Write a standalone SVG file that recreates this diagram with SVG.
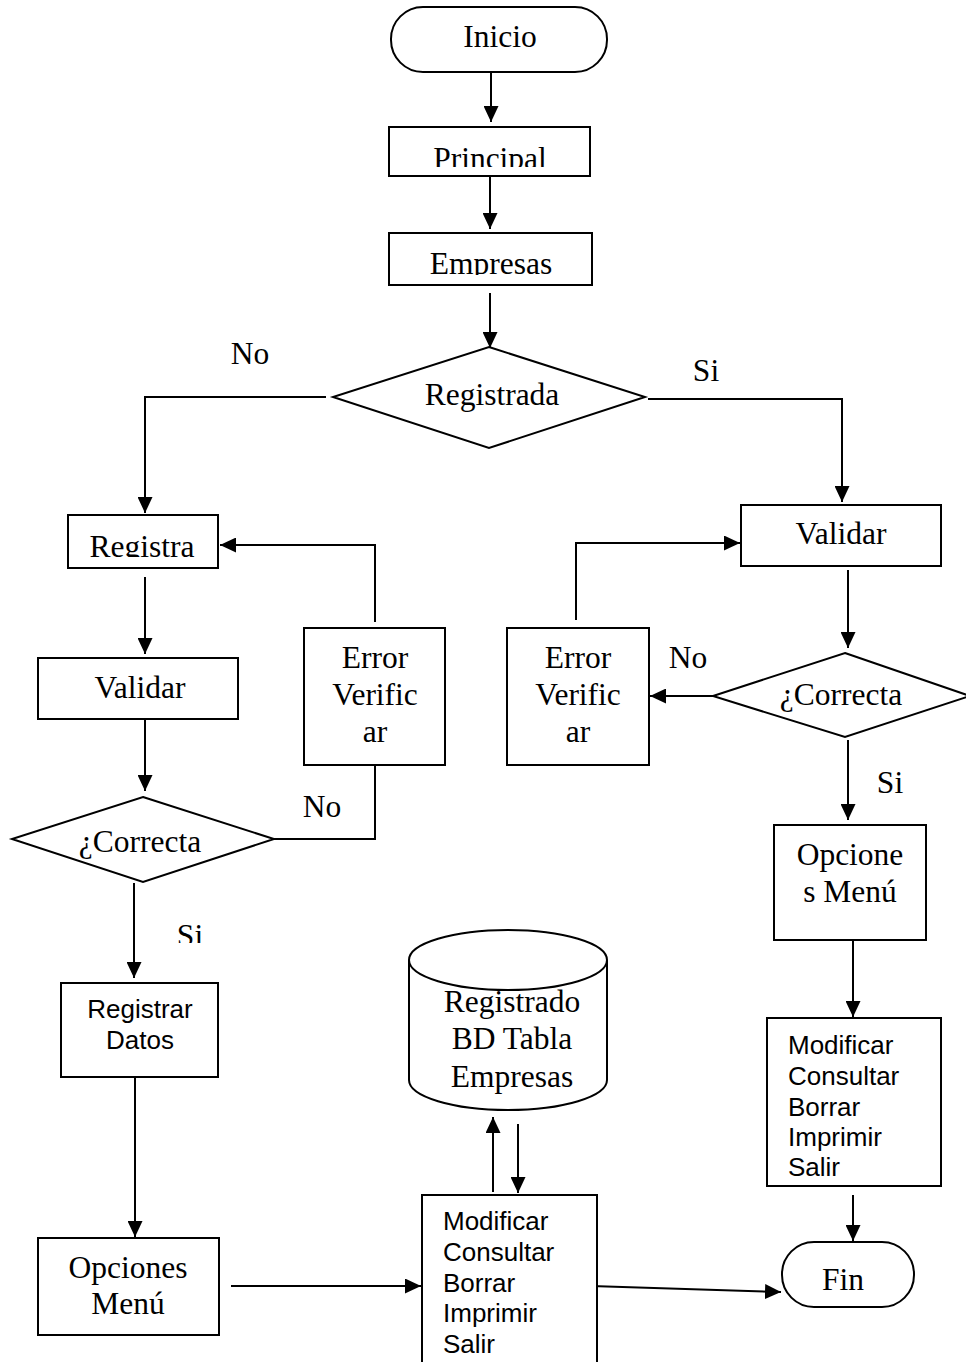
<svg xmlns="http://www.w3.org/2000/svg" width="966" height="1362" viewBox="0 0 966 1362">
<style>
.s{fill:#fff;stroke:#000;stroke-width:2}
.t{font-family:"Liberation Serif","Times New Roman",serif;font-size:31.5px;fill:#000;text-anchor:middle}
.a{font-family:"Liberation Sans",Arial,sans-serif;font-size:26px;fill:#000}
.c{fill:none;stroke:#000;stroke-width:2}
</style>
<defs>
<marker id="ar" markerUnits="userSpaceOnUse" markerWidth="17" markerHeight="15" refX="16" refY="7.5" orient="auto">
<path d="M0,0 L16,7.5 L0,15 Z" fill="#000"/>
</marker>
<clipPath id="cp1"><rect x="380" y="120" width="220" height="47"/></clipPath>
<clipPath id="cp2"><rect x="380" y="230" width="220" height="45"/></clipPath>
<clipPath id="cp3"><rect x="60" y="510" width="170" height="47"/></clipPath>
<clipPath id="cp4"><rect x="160" y="900" width="60" height="43"/></clipPath>
</defs>
<g id="connectors">
<line class="c" x1="491" y1="72" x2="491" y2="122" marker-end="url(#ar)"/>
<line class="c" x1="490" y1="176" x2="490" y2="229" marker-end="url(#ar)"/>
<line class="c" x1="490" y1="293" x2="490" y2="348" marker-end="url(#ar)"/>
<polyline class="c" points="326,397 145,397 145,513" marker-end="url(#ar)"/>
<polyline class="c" points="648,399 842,399 842,502" marker-end="url(#ar)"/>
<line class="c" x1="145" y1="577" x2="145" y2="654" marker-end="url(#ar)"/>
<polyline class="c" points="375,622 375,545 220,545" marker-end="url(#ar)"/>
<line class="c" x1="145" y1="720" x2="145" y2="791" marker-end="url(#ar)"/>
<polyline class="c" points="274,839 375,839 375,765"/>
<line class="c" x1="134" y1="883" x2="134" y2="978" marker-end="url(#ar)"/>
<line class="c" x1="135" y1="1068" x2="135" y2="1237" marker-end="url(#ar)"/>
<line class="c" x1="231" y1="1286" x2="421" y2="1286" marker-end="url(#ar)"/>
<line class="c" x1="591" y1="1286" x2="781" y2="1292" marker-end="url(#ar)"/>
<line class="c" x1="493" y1="1192" x2="493" y2="1117" marker-end="url(#ar)"/>
<line class="c" x1="518" y1="1124" x2="518" y2="1193" marker-end="url(#ar)"/>
<polyline class="c" points="576,620 576,543 740,543" marker-end="url(#ar)"/>
<line class="c" x1="848" y1="570" x2="848" y2="648" marker-end="url(#ar)"/>
<line class="c" x1="713" y1="696" x2="650" y2="696" marker-end="url(#ar)"/>
<line class="c" x1="848" y1="740" x2="848" y2="820" marker-end="url(#ar)"/>
<line class="c" x1="853" y1="940" x2="853" y2="1017" marker-end="url(#ar)"/>
<line class="c" x1="853" y1="1195" x2="853" y2="1241" marker-end="url(#ar)"/>
</g>
<g id="labels">
<text class="t" x="250" y="364">No</text>
<text class="t" x="706" y="381">Si</text>
<text class="t" x="322" y="817">No</text>
<text class="t" x="190" y="946" clip-path="url(#cp4)">Si</text>
<text class="t" x="688" y="668">No</text>
<text class="t" x="890" y="793">Si</text>
</g>
<g id="inicio">
<rect class="s" x="391" y="7" width="216" height="65" rx="32"/>
<text class="t" x="500" y="47">Inicio</text>
</g>
<g id="principal">
<rect class="s" x="389" y="127" width="201" height="49"/>
<text class="t" x="490" y="169" clip-path="url(#cp1)">Principal</text>
</g>
<g id="empresas">
<rect class="s" x="389" y="233" width="203" height="52"/>
<text class="t" x="491" y="274" clip-path="url(#cp2)">Empresas</text>
</g>
<g id="registrada">
<polygon class="s" points="489,347 645,397 489,448 333,397"/>
<text class="t" x="492" y="405">Registrada</text>
</g>
<g id="registra">
<rect class="s" x="68" y="515" width="150" height="53"/>
<text class="t" x="142" y="557" clip-path="url(#cp3)">Registra</text>
</g>
<g id="error1">
<rect class="s" x="304" y="628" width="141" height="137"/>
<text class="t" x="375" y="668">Error</text>
<text class="t" x="375" y="705">Verific</text>
<text class="t" x="375" y="742">ar</text>
</g>
<g id="validar1">
<rect class="s" x="38" y="658" width="200" height="61"/>
<text class="t" x="140" y="698">Validar</text>
</g>
<g id="correcta1">
<polygon class="s" points="143,797 274,839 143,882 12,839"/>
<text class="t" x="140" y="852">¿Correcta</text>
</g>
<g id="registrar-datos">
<rect class="s" x="61" y="983" width="157" height="94"/>
<text class="a" x="140" y="1018" text-anchor="middle">Registrar</text>
<text class="a" x="140" y="1049" text-anchor="middle">Datos</text>
</g>
<g id="opciones1">
<rect class="s" x="38" y="1238" width="181" height="97"/>
<text class="t" x="128" y="1278">Opciones</text>
<text class="t" x="128" y="1314">Menú</text>
</g>
<g id="bd">
<path class="s" d="M409,960 A99,30 0 0 1 607,960 L607,1080 A99,30 0 0 1 409,1080 Z"/>
<path class="c" d="M409,960 A99,30 0 0 0 607,960"/>
<text class="t" x="512" y="1012">Registrado</text>
<text class="t" x="512" y="1049">BD Tabla</text>
<text class="t" x="512" y="1087">Empresas</text>
</g>
<g id="modificar1">
<rect class="s" x="422" y="1195" width="175" height="180"/>
<text class="a" x="443" y="1230">Modificar</text>
<text class="a" x="443" y="1261">Consultar</text>
<text class="a" x="443" y="1292">Borrar</text>
<text class="a" x="443" y="1322">Imprimir</text>
<text class="a" x="443" y="1353">Salir</text>
</g>
<g id="fin">
<rect class="s" x="782" y="1242" width="132" height="65" rx="32"/>
<text class="t" x="843" y="1290">Fin</text>
</g>
<g id="validar2">
<rect class="s" x="741" y="505" width="200" height="61"/>
<text class="t" x="841" y="544">Validar</text>
</g>
<g id="error2">
<rect class="s" x="507" y="628" width="142" height="137"/>
<text class="t" x="578" y="668">Error</text>
<text class="t" x="578" y="705">Verific</text>
<text class="t" x="578" y="742">ar</text>
</g>
<g id="correcta2">
<polygon class="s" points="845,653 970,696 845,737 713,696"/>
<text class="t" x="841" y="705">¿Correcta</text>
</g>
<g id="opciones2">
<rect class="s" x="774" y="825" width="152" height="115"/>
<text class="t" x="850" y="865">Opcione</text>
<text class="t" x="850" y="902">s Menú</text>
</g>
<g id="modificar2">
<rect class="s" x="767" y="1018" width="174" height="168"/>
<text class="a" x="788" y="1054">Modificar</text>
<text class="a" x="788" y="1085">Consultar</text>
<text class="a" x="788" y="1116">Borrar</text>
<text class="a" x="788" y="1146">Imprimir</text>
<text class="a" x="788" y="1176">Salir</text>
</g>
</svg>
